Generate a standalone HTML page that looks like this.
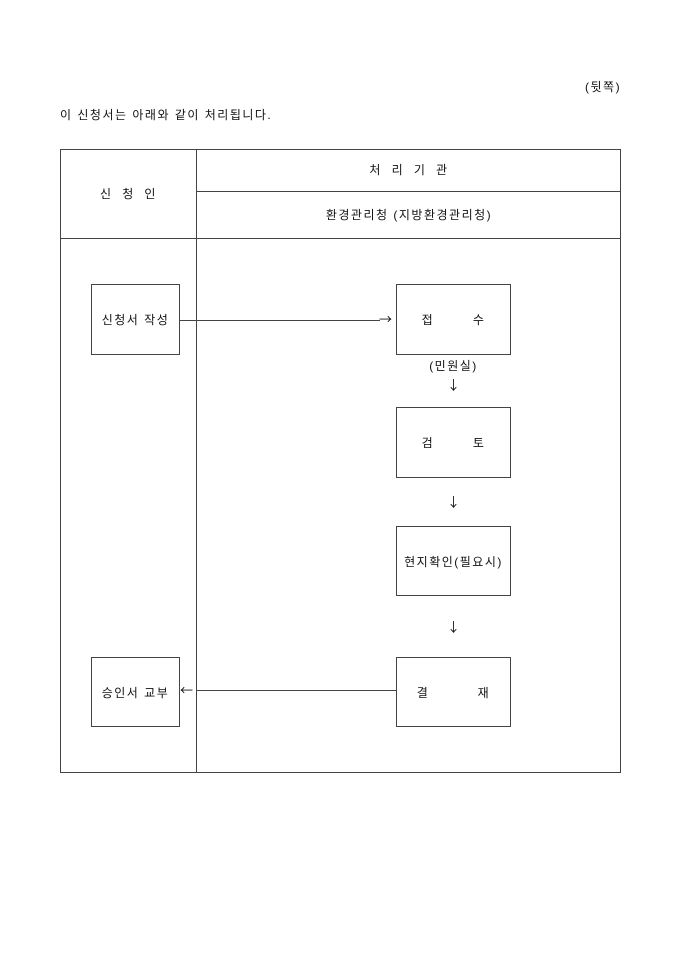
<!DOCTYPE html>
<html><head><meta charset="utf-8">
<style>
html,body{margin:0;padding:0;background:#fff;}
body{width:680px;height:962px;position:relative;overflow:hidden;font-family:"Liberation Sans","Noto Sans CJK KR","NanumGothic",sans-serif;font-size:12px;color:#111;letter-spacing:1.5px;}
.a{position:absolute;}
.h{position:absolute;height:1px;background:#444;}
.v{position:absolute;width:1px;background:#444;}
.box{position:absolute;border:1px solid #444;box-sizing:border-box;display:flex;align-items:center;justify-content:center;white-space:pre;}
.t{position:absolute;white-space:pre;text-align:center;line-height:14px;}
.ar{font-family:"Noto Sans CJK KR",sans-serif;font-size:13px;letter-spacing:0;}
</style></head><body>
<div class="t" style="left:585px;top:80px;">(뒷쪽)</div>
<div class="t" style="left:60px;top:108px;text-align:left;">이 신청서는 아래와 같이 처리됩니다.</div>

<div class="a" style="left:60px;top:149px;width:561px;height:624px;border:1px solid #444;box-sizing:border-box;"></div>
<div class="v" style="left:196px;top:149px;height:624px;"></div>
<div class="h" style="left:196px;top:191px;width:425px;"></div>
<div class="h" style="left:60px;top:238px;width:561px;"></div>
<div class="t" style="left:60px;top:187px;width:137px;">신  청  인</div>
<div class="t" style="left:197px;top:163px;width:424px;">처  리  기  관</div>
<div class="t" style="left:197px;top:208px;width:424px;">환경관리청 (지방환경관리청)</div>

<div class="box" style="left:91px;top:284px;width:89px;height:71px;">신청서 작성</div>
<div class="box" style="left:91px;top:657px;width:89px;height:70px;">승인서 교부</div>
<div class="box" style="left:396px;top:284px;width:115px;height:71px;">접        수</div>
<div class="box" style="left:396px;top:407px;width:115px;height:71px;">검        토</div>
<div class="box" style="left:396px;top:526px;width:115px;height:70px;">현지확인(필요시)</div>
<div class="box" style="left:396px;top:657px;width:115px;height:70px;">결          재</div>

<div class="h" style="left:180px;top:320px;width:200px;"></div>
<div class="t ar" style="left:379px;top:312px;">→</div>
<div class="h" style="left:196px;top:690px;width:200px;"></div>
<div class="t ar" style="left:180px;top:683px;">←</div>
<div class="t" style="left:396px;top:359px;width:115px;">(민원실)</div>
<div class="t ar" style="left:396px;top:378px;width:115px;">↓</div>
<div class="t ar" style="left:396px;top:495px;width:115px;">↓</div>
<div class="t ar" style="left:396px;top:620px;width:115px;">↓</div>
</body></html>
